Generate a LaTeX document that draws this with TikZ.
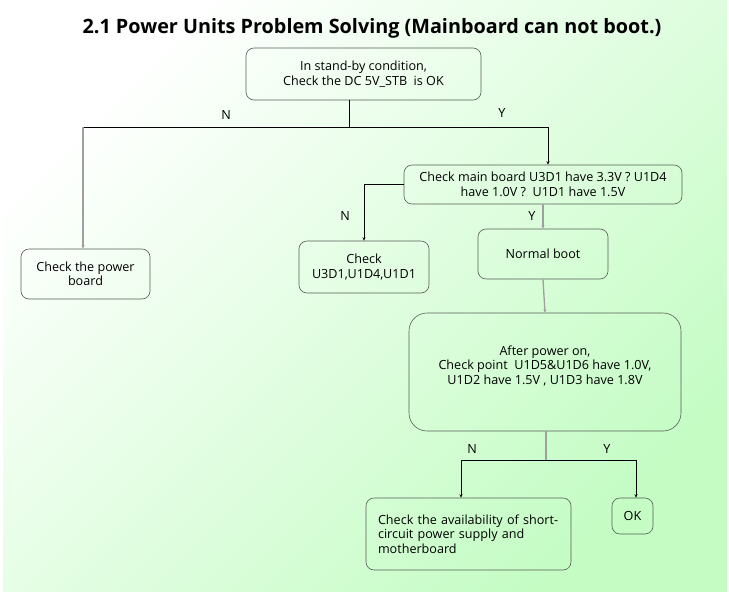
\documentclass[tikz,border=0pt]{standalone}
\usepackage{fontspec}
\setmainfont{Open Sans}
\usepackage{tikz}
\usetikzlibrary{arrows.meta, positioning}

\definecolor{bgGreen}{RGB}{196,252,196}
\definecolor{boxLine}{RGB}{85,95,85}

\begin{document}
\begin{tikzpicture}[x=1pt,y=-1pt,>={Stealth[length=3.5pt,width=3pt]},
        box/.style={draw=boxLine,line width=0.6pt,rounded corners=8pt,align=center,
          font=\fontsize{12.6}{14.5}\selectfont,inner sep=0pt},
        flow/.style={black,line width=0.8pt},
        gflow/.style={gray!75,line width=1.3pt},
        yn/.style={font=\fontsize{12.6}{14}\selectfont}]

  % background
  \useasboundingbox (0,0) rectangle (729,592);
  \shade[top color=white,bottom color=bgGreen,shading angle=45] (3,0) rectangle (727,592);

  \node[font=\fontsize{19.8}{22}\bfseries\selectfont] (title) at (372,28)
       {2.1 Power Units Problem Solving (Mainboard can not boot.)};

  % boxes
  \node[box,minimum width=235pt,minimum height=52pt] (start)  at (363.5,74)
       {In stand-by condition,\\ Check the DC 5V\_STB\ \ is OK};
  \node[box,minimum width=129pt,minimum height=50pt] (power)  at (85.5,274)
       {Check the power\\ board};
  \node[box,minimum width=278pt,minimum height=39pt] (rails)  at (543,184.5)
       {Check main board U3D1 have 3.3V ? U1D4\\ have 1.0V ?\ \ U1D1 have 1.5V};
  \node[box,minimum width=130pt,minimum height=52pt] (chkic)  at (364,267)
       {Check\\ U3D1,U1D4,U1D1};
  \node[box,minimum width=130pt,minimum height=50pt] (boot)   at (543,254)
       {Normal boot};
  \node[box,rounded corners=18pt,minimum width=272pt,minimum height=118pt] (after) at (545,372)
       {After power on,\\ Check point\ \ U1D5\&U1D6 have 1.0V,\\ U1D2 have 1.5V , U1D3 have 1.8V\\[-0.5pt]};
  \node[box,align=left,text width=181pt,minimum width=205pt,minimum height=72pt] (short) at (468.5,534)
       {Check the availability of short-\\ circuit power supply and\\ motherboard};
  \node[box,minimum width=41pt,minimum height=36pt] (ok)     at (632.5,516) {OK};

  % junctions
  \coordinate (j1)  at (349,127);
  \coordinate (j1n) at (83,127);
  \coordinate (j1y) at (548,127);
  \coordinate (j2)  at (546,460);
  \coordinate (j2n) at (461,460);
  \coordinate (j2y) at (636,460);

  % connectors
  \draw[flow,line width=0.6pt] (start.south -| j1) -- (j1);
  \draw[flow] (j1n) -- (j1y);
  \draw[gflow,->] (j1n) -- (j1n |- power.north);
  \draw[flow,->] (j1y) -- (j1y |- rails.north);
  \draw[flow,->] (rails.west) -| (chkic.north);
  \draw[gflow,->] (rails.south) -- (boot.north);
  \draw[gflow,->] (boot.south) -- (after.north);
  \draw[gflow] (after.south -| j2) -- (j2);
  \draw[flow] (j2n) -- (j2y);
  \draw[flow,->] (j2n) -- (j2n |- short.north);
  \draw[flow,->] (j2y) -- (j2y |- ok.north);

  % labels
  \node[yn] (n1) at (226,115) {N};
  \node[yn] (y1) at (502,113) {Y};
  \node[yn] (n2) at (345,216) {N};
  \node[yn] (y2) at (532,216) {Y};
  \node[yn] (n3) at (472,449) {N};
  \node[yn] (y3) at (607,449) {Y};
\end{tikzpicture}
\end{document}
